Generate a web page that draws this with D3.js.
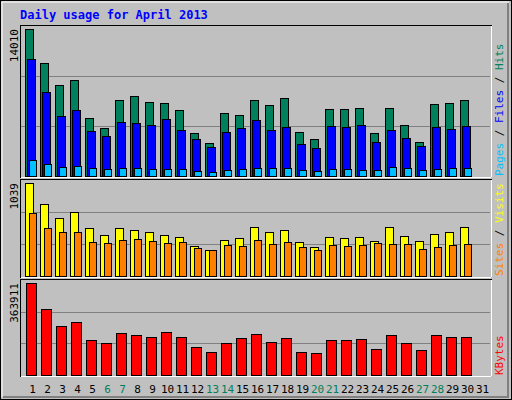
<!DOCTYPE html><html><head><meta charset="utf-8">
<script src="https://cdn.jsdelivr.net/npm/d3@7"></script>
<style>body{margin:0;background:#fff}</style></head><body>
<svg id="c" width="512" height="400"></svg>
<script>
const days=d3.range(1,32);
const hits=[14010,10770,8673,9150,5528,4575,7243,7625,7053,6958,6290,4098,3145,6004,5814,7243,6767,7434,4194,3526,6386,6386,6481,4098,6481,4861,3240,6862,6958,7243];
const files=[11151,8006,5718,6290,4289,3812,5147,5051,4861,5433,4384,3526,2764,4194,4575,5337,4384,4670,3050,2669,4765,4670,4861,3240,4384,3622,2859,4670,4480,4765];
const pages=[1525,1144,858,953,762,667,762,762,667,667,667,477,381,572,667,762,762,762,572,477,667,667,572,572,858,762,572,667,762,762];
const visits=[1039,802,644,711,531,463,531,519,497,463,440,339,294,407,429,553,497,519,384,327,440,429,440,395,553,452,395,474,497,542];
const sites=[700,531,497,486,384,373,407,418,395,373,384,316,294,350,339,407,361,384,327,294,350,339,350,373,361,361,305,327,350,361];
const kbytes=[363911,259937,191952,207950,139965,127968,167958,159960,151962,171957,151962,111972,91977,127968,147963,163959,131967,147963,91977,87978,139965,139965,143964,103974,159960,127968,99975,159960,151962,151962];
const weekend=[6,7,13,14,20,21,27,28];

const svg=d3.select("#c");
svg.append("rect").attr("x",0.5).attr("y",0.5).attr("width",511).attr("height",399).attr("fill","#c0c0c0").attr("stroke","#000");
svg.append("path").attr("d","M2,397V2H509").attr("stroke","#fff").attr("fill","none").attr("stroke-width",1);
svg.append("path").attr("d","M3,397H508V3").attr("stroke","#808080").attr("fill","none").attr("stroke-width",2);
svg.append("text").attr("x",20).attr("y",19).text("Daily usage for April 2013")
 .attr("fill","#0000ff").attr("font-family","DejaVu Sans Mono").attr("font-weight","bold").attr("font-size",12);

const x=d3.scaleBand().domain(days).range([21,486]).paddingInner(0);
const panels=[
 {top:25,bot:177,max:14010,series:[[hits,"#00805c",4,8],[files,"#0000ff",6,8],[pages,"#00c0ff",8,7]],
  lab:[["Pages","#00c0ff"],[" / ","#000"],["Files","#0000ff"],[" / ","#000"],["Hits","#00805c"]]},
 {top:179,bot:277,max:1039,series:[[visits,"#ffff00",4,8],[sites,"#ff8000",8,7]],
  lab:[["Sites","#ff8000"],[" / ","#000"],["Visits","#ffff00"]]},
 {top:279,bot:376,max:363911,series:[[kbytes,"#ff0000",5,10]],lab:[["KBytes","#ff0000"]]}
];
panels.forEach(p=>{
 const g=svg.append("g");
 g.append("rect").attr("x",20.5).attr("y",p.top+0.5).attr("width",471).attr("height",p.bot-p.top).attr("fill","#c0c0c0").attr("stroke","#000");
 g.append("path").attr("d",`M21,${p.bot+0.5}H491.5V${p.top+1}`).attr("stroke","#fff").attr("fill","none");
 const base=p.bot-1, topY=p.top+4;
 const y=d3.scaleLinear().domain([0,p.max]).range([base,topY]);
 const h=(base-p.top-1);
 [1/3,2/3].forEach(f=>g.append("line").attr("x1",21).attr("x2",490).attr("y1",Math.round(base-h*f)+0.5).attr("y2",Math.round(base-h*f)+0.5).attr("stroke","#808080"));
 p.series.forEach(([vals,col,off,w])=>{
  g.selectAll(null).data(vals).enter().append("rect")
   .attr("x",(d,i)=>x(days[i])+off+0.5).attr("y",d=>Math.round(y(d))+0.5)
   .attr("width",w).attr("height",d=>base-Math.round(y(d)))
   .attr("fill",col).attr("stroke","#000");
 });
 g.append("text").attr("transform",`translate(18,${p.top+4}) rotate(-90)`).attr("text-anchor","end")
  .attr("font-family","DejaVu Sans Mono").attr("font-size",11).attr("fill","#000").text(p.max);
 const t=g.append("text").attr("transform",`translate(503,${p.bot-1}) rotate(-90)`)
  .attr("font-family","DejaVu Sans Mono").attr("font-size",11);
 p.lab.forEach(([s,c])=>t.append("tspan").attr("fill",c).attr("xml:space","preserve").text(s));
});
svg.selectAll(null).data(days).enter().append("text")
 .attr("x",d=>x(d)+x.bandwidth()/2+4).attr("y",393).attr("text-anchor","middle")
 .attr("font-family","DejaVu Sans Mono").attr("font-size",11)
 .attr("fill",d=>weekend.includes(d)?"#00805c":"#000").text(d=>d);
</script></body></html>
